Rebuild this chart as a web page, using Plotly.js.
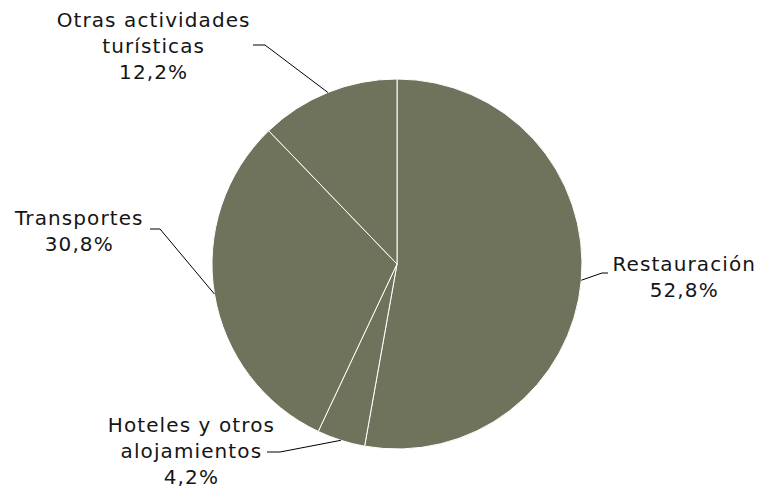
<!DOCTYPE html>
<html><head><meta charset="utf-8">
<script src="https://cdn.plot.ly/plotly-3.0.1.min.js"></script>
<style>
body{margin:0;background:#fff;}
#chart text.annotation-text{letter-spacing:1.1px;}
</style>
</head><body>
<div id="chart" style="width:768px;height:490px;"></div>
<script>
// ---- data ----
const categories = ["Restauración", "Hoteles y otros alojamientos", "Transportes", "Otras actividades turísticas"];
const values = [52.8, 4.2, 30.8, 12.2];
const labelLines = [["Restauración"], ["Hoteles y otros", "alojamientos"], ["Transportes"], ["Otras actividades", "turísticas"]];
const valueLabels = ["52,8%", "4,2%", "30,8%", "12,2%"];

// ---- layout config (pixels) ----
const W = 768, H = 490;
const cx = 397, cy = 264, R = 185;
const labelCenter = [[684, 277], [191, 451], [79, 231], [153, 46]];
const leaderElbow = [[602, 273], [280, 452], [160, 229], [265, 45]];
const leaderEnd = [[608, 273], [267, 452], [150, 229], [253, 45]];

const px = x => x / W;
const py = y => 1 - y / H;

const total = values.reduce((a, b) => a + b, 0);
let cum = 0;
const shapes = [], annotations = [];
values.forEach((v, i) => {
  const mid = (cum + v / 2) / total * 2 * Math.PI; // clockwise from top
  cum += v;
  const ex = cx + R * Math.sin(mid), ey = cy - R * Math.cos(mid);
  shapes.push({
    type: 'path', xref: 'paper', yref: 'paper',
    path: `M ${px(ex)},${py(ey)} L ${px(leaderElbow[i][0])},${py(leaderElbow[i][1])} L ${px(leaderEnd[i][0])},${py(leaderEnd[i][1])}`,
    line: {color: '#000', width: 1}
  });
  annotations.push({
    xref: 'paper', yref: 'paper', x: px(labelCenter[i][0]), y: py(labelCenter[i][1]),
    xanchor: 'center', yanchor: 'middle', align: 'center', showarrow: false, borderpad: 0,
    text: labelLines[i].concat([valueLabels[i]]).join('<br>'),
    font: {family: 'DejaVu Sans, Verdana, sans-serif', size: 20, color: '#151515'}
  });
});

const trace = {
  type: 'pie', labels: categories, values: values, sort: false,
  direction: 'clockwise', rotation: 0, textinfo: 'none', hoverinfo: 'label+percent',
  marker: {colors: categories.map(() => '#70735B'), line: {color: '#ffffff', width: 1}},
  domain: {x: [px(cx - R), px(cx + R)], y: [py(cy + R), py(cy - R)]},
  showlegend: false
};

Plotly.newPlot('chart', [trace], {
  width: W, height: H, margin: {l: 0, r: 0, t: 0, b: 0},
  paper_bgcolor: '#fff', showlegend: false,
  shapes: shapes, annotations: annotations
}, {displayModeBar: false, staticPlot: true});
</script>
</body></html>
